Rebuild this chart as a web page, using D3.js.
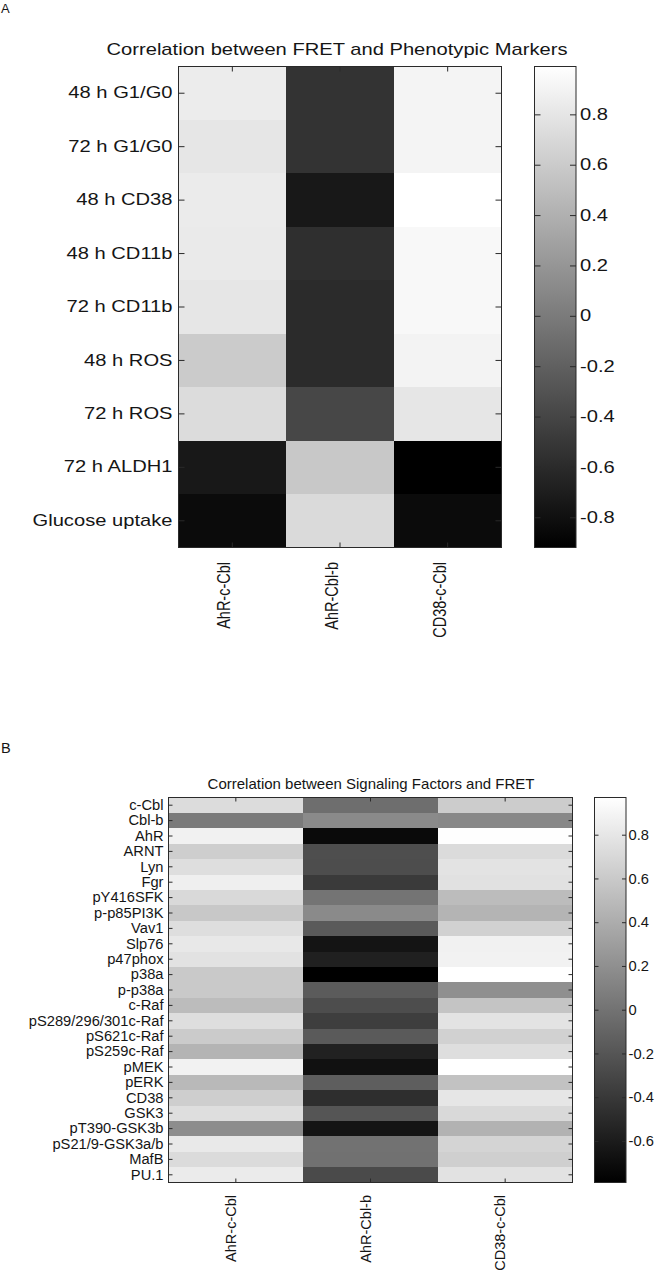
<!DOCTYPE html>
<html><head><meta charset="utf-8">
<script src="https://cdn.jsdelivr.net/npm/d3@7"></script>
<style>
body{margin:0;background:#fff}
svg{display:block}
text{font-family:"Liberation Sans",Arial,sans-serif;fill:#151515}
.dom{fill:none;stroke:#2a2a2a;stroke-width:1}
.tk line{stroke:#2a2a2a;stroke-width:1}
</style>
</head><body>
<svg id="c" width="662" height="1275"></svg>
<script>
// ---------- Panel A data ----------
const titleA = "Correlation between FRET and Phenotypic Markers";
const colsA = ["AhR-c-Cbl", "AhR-Cbl-b", "CD38-c-Cbl"];
const rowsA = ["48 h G1/G0", "72 h G1/G0", "48 h CD38", "48 h CD11b", "72 h CD11b",
               "48 h ROS", "72 h ROS", "72 h ALDH1", "Glucose uptake"];
const valsA_AhRcCbl  = [0.85, 0.80, 0.84, 0.83, 0.80, 0.60, 0.73, -0.74, -0.84];
const valsA_AhRCblb  = [-0.54, -0.54, -0.74, -0.57, -0.60, -0.60, -0.39, 0.58, 0.71];
const valsA_CD38cCbl = [0.91, 0.91, 0.99, 0.94, 0.94, 0.90, 0.80, -0.92, -0.84];
const ticksA = [-0.8, -0.6, -0.4, -0.2, 0, 0.2, 0.4, 0.6, 0.8];

// ---------- Panel B data ----------
const titleB = "Correlation between Signaling Factors and FRET";
const colsB = ["AhR-c-Cbl", "AhR-Cbl-b", "CD38-c-Cbl"];
const rowsB = ["c-Cbl", "Cbl-b", "AhR", "ARNT", "Lyn", "Fgr", "pY416SFK", "p-p85PI3K", "Vav1",
               "Slp76", "p47phox", "p38a", "p-p38a", "c-Raf", "pS289/296/301c-Raf", "pS621c-Raf",
               "pS259c-Raf", "pMEK", "pERK", "CD38", "GSK3", "pT390-GSK3b", "pS21/9-GSK3a/b",
               "MafB", "PU.1"];
const valsB_AhRcCbl  = [0.73, 0.05, 0.87, 0.63, 0.74, 0.86, 0.71, 0.59, 0.74, 0.81, 0.77, 0.60, 0.60,
                        0.51, 0.74, 0.61, 0.45, 0.88, 0.49, 0.63, 0.74, 0.18, 0.82, 0.72, 0.83];
const valsB_AhRCblb  = [-0.03, 0.16, -0.72, -0.25, -0.26, -0.39, 0.01, 0.16, -0.17, -0.65, -0.57, -0.79,
                        -0.16, -0.26, -0.36, -0.17, -0.56, -0.67, -0.14, -0.47, -0.20, -0.65, 0.00, -0.01, -0.28];
const valsB_CD38cCbl = [0.62, 0.15, 0.96, 0.72, 0.78, 0.76, 0.51, 0.45, 0.65, 0.87, 0.88, 0.97, 0.20,
                        0.56, 0.78, 0.65, 0.74, 0.97, 0.55, 0.80, 0.71, 0.44, 0.67, 0.64, 0.77];
const ticksB = [-0.6, -0.4, -0.2, 0, 0.2, 0.4, 0.6, 0.8];

const svg = d3.select("#c");
const fmt = d => Math.abs(d) < 1e-9 ? "0" : d.toFixed(1);

function panel(o) {
  const g = svg.append("g");
  const sx = o.sx;
  const stretch = sel => sel.each(function () {
    const t = d3.select(this);
    const x = +t.attr("x") || 0;
    t.attr("x", x / sx).attr("transform", `scale(${sx},1)`);
  });
  const x = d3.scaleBand().domain(o.cols).range(o.xr);
  const y = d3.scaleBand().domain(o.rows).range(o.yr);
  const all = o.series.flat();
  const ext = d3.extent(all);
  const color = d3.scaleLinear().domain(ext).range(["#000", "#fff"]);

  const cells = [];
  o.cols.forEach((c, i) => o.rows.forEach((r, j) => cells.push({c, r, v: o.series[i][j]})));
  g.append("g").selectAll("rect").data(cells).join("rect")
    .attr("x", d => x(d.c)).attr("y", d => y(d.r))
    .attr("width", x.bandwidth() + 0.6).attr("height", y.bandwidth() + 0.6)
    .attr("fill", d => color(d.v)).attr("shape-rendering", "crispEdges");

  const left = g.append("g").attr("class", "tk").attr("transform", `translate(${o.xr[0]},0)`)
    .call(d3.axisLeft(y).tickSizeInner(-o.tly).tickSizeOuter(0).tickPadding(o.pady));
  left.select(".domain").remove();
  left.attr("font-size", o.fs);
  left.selectAll("text").style("font-size", o.fs + "px").attr("fill", "#151515").call(stretch);
  const right = g.append("g").attr("class", "tk").attr("transform", `translate(${o.xr[1]},0)`)
    .call(d3.axisRight(y).tickSizeInner(-o.tly).tickSizeOuter(0).tickFormat(""));
  right.select(".domain").remove();
  const top = g.append("g").attr("class", "tk").attr("transform", `translate(0,${o.yr[0]})`)
    .call(d3.axisTop(x).tickSizeInner(-o.tlx).tickSizeOuter(0).tickFormat(""));
  top.select(".domain").remove();
  const bot = g.append("g").attr("class", "tk").attr("transform", `translate(0,${o.yr[1]})`)
    .call(d3.axisBottom(x).tickSizeInner(-o.tlx).tickSizeOuter(0).tickFormat(""));
  bot.select(".domain").remove();
  g.append("rect").attr("class", "dom")
    .attr("x", o.xr[0]).attr("y", o.yr[0])
    .attr("width", o.xr[1] - o.xr[0]).attr("height", o.yr[1] - o.yr[0]);

  g.append("g").selectAll("text").data(o.cols).join("text")
    .attr("transform", d => `translate(${x(d) + x.bandwidth() / 2 + o.xlOff},${o.xlY}) scale(${sx},1) rotate(-90)`)
    .attr("text-anchor", "end").style("font-size", o.xfs + "px").text(d => d);

  g.append("text").attr("transform", `translate(${o.titleX},${o.titleY}) scale(${sx},1)`)
    .attr("text-anchor", "middle").style("font-size", o.tfs + "px").text(o.title);

  g.append("text").attr("x", o.letter[1]).attr("y", o.letter[2])
    .style("font-size", o.letter[3] + "px").text(o.letter[0]);

  const cy = d3.scaleLinear().domain(ext).range([o.yr[1], o.yr[0]]);
  const gid = "grad" + o.letter[0];
  const grad = svg.append("defs").append("linearGradient").attr("id", gid)
    .attr("x1", 0).attr("y1", 1).attr("x2", 0).attr("y2", 0);
  grad.append("stop").attr("offset", 0).attr("stop-color", color(ext[0]));
  grad.append("stop").attr("offset", 1).attr("stop-color", color(ext[1]));
  g.append("rect").attr("x", o.cb[0]).attr("y", o.yr[0]).attr("width", o.cb[1] - o.cb[0])
    .attr("height", o.yr[1] - o.yr[0]).attr("fill", `url(#${gid})`);
  const cr = g.append("g").attr("class", "tk").attr("transform", `translate(${o.cb[1]},0)`)
    .call(d3.axisRight(cy).tickValues(o.ticks).tickFormat(fmt).tickSizeInner(-o.ctl).tickSizeOuter(0).tickPadding(o.cpad));
  cr.select(".domain").remove();
  cr.attr("font-size", o.fs);
  cr.selectAll("text").style("font-size", o.fs + "px").attr("fill", "#151515").call(stretch);
  const cl = g.append("g").attr("class", "tk").attr("transform", `translate(${o.cb[0]},0)`)
    .call(d3.axisLeft(cy).tickValues(o.ticks).tickFormat("").tickSizeInner(-o.ctl).tickSizeOuter(0));
  cl.select(".domain").remove();
  g.append("rect").attr("class", "dom").attr("x", o.cb[0]).attr("y", o.yr[0])
    .attr("width", o.cb[1] - o.cb[0]).attr("height", o.yr[1] - o.yr[0]);
}

panel({
  title: titleA, cols: colsA, rows: rowsA,
  series: [valsA_AhRcCbl, valsA_AhRCblb, valsA_CD38cCbl], ticks: ticksA,
  xr: [178.5, 501.5], yr: [66.5, 547.5], cb: [534.5, 576],
  sx: 1.26, fs: 16, xfs: 14.5, tfs: 16, tly: 6, tlx: 5, pady: 6, ctl: 6, cpad: 4,
  xlOff: -2, xlY: 562, titleX: 337, titleY: 55, letter: ["A", 1, 13, 13]
});
panel({
  title: titleB, cols: colsB, rows: rowsB,
  series: [valsB_AhRcCbl, valsB_AhRCblb, valsB_CD38cCbl], ticks: ticksB,
  xr: [168.5, 572.5], yr: [797.5, 1182.5], cb: [594.5, 626],
  sx: 1, fs: 14.7, xfs: 14.5, tfs: 15, tly: 4, tlx: 4, pady: 5, ctl: 4, cpad: 2.5,
  xlOff: 0, xlY: 1195, titleX: 371, titleY: 789, letter: ["B", 1, 753, 14.5]
});
</script>
</body></html>
